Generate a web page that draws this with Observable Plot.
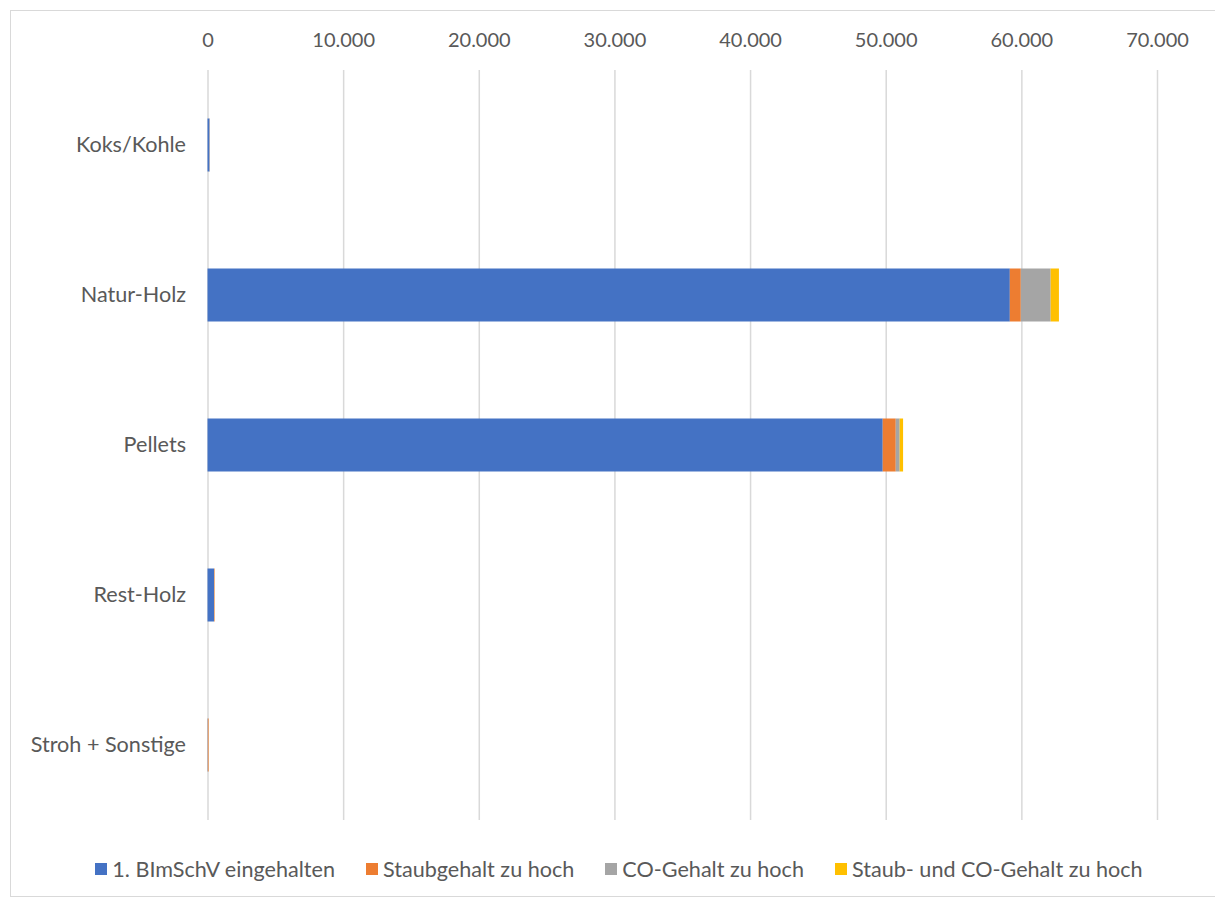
<!DOCTYPE html>
<html>
<head>
<meta charset="utf-8">
<script src="https://cdn.jsdelivr.net/npm/d3@7"></script>
<script src="https://cdn.jsdelivr.net/npm/@observablehq/plot@0.6"></script>
<style>
  body { margin: 0; background: #fff; font-family: Lato, "Open Sans", sans-serif; }
  #wrap { position: relative; width: 1215px; height: 900px; }
  #frame { position: absolute; left: 10px; top: 10px; width: 1215px; height: 887px; border: 1px solid #d9d9d9; box-sizing: border-box; border-right: none; }
  #chart { position: absolute; left: 0; top: 0; }
  #legend { position: absolute; left: 0; width: 1238px; top: 856px; display: flex; justify-content: center; gap: 31px; font-size: 21.6px; color: #595959; }
  .item { display: flex; align-items: center; gap: 5px; }
  .sw { width: 12px; height: 12px; display: inline-block; }
  #chart g[aria-label="y-axis tick label"] text { font-size: 21.6px; }
</style>
</head>
<body>
<div id="wrap">
  <div id="frame"></div>
  <div id="chart"></div>
  <div id="legend"></div>
</div>
<script>
const categories = ["Koks/Kohle", "Natur-Holz", "Pellets", "Rest-Holz", "Stroh + Sonstige"];
const seriesNames = ["1. BImSchV eingehalten", "Staubgehalt zu hoch", "CO-Gehalt zu hoch", "Staub- und CO-Gehalt zu hoch"];
const colors = ["#4472C4", "#ED7D31", "#A5A5A5", "#FFC000"];
const eingehalten = [150, 59150, 49780, 480, 20];
const staubHoch = [10, 810, 960, 40, 60];
const coHoch = [5, 2200, 290, 5, 5];
const staubCoHoch = [2, 610, 250, 3, 3];
const xTicks = [0, 10000, 20000, 30000, 40000, 50000, 60000, 70000];

const seriesValues = [eingehalten, staubHoch, coHoch, staubCoHoch];
const data = [];
seriesNames.forEach((s, si) => categories.forEach((c, ci) => data.push({category: c, series: s, value: seriesValues[si][ci]})));

const fmt = d => d === 0 ? "0" : d3.format(",")(d).replace(/,/g, ".");

const chart = Plot.plot({
  width: 1215,
  height: 840,
  marginTop: 70,
  marginBottom: 20,
  marginLeft: 207.5,
  marginRight: 58,
  style: { fontFamily: "Lato, 'Open Sans', sans-serif", fontSize: "20px", color: "#595959", background: "transparent" },
  x: { domain: [0, 70000], ticks: xTicks, tickFormat: fmt, axis: "top", label: null, tickSize: 0, tickPadding: 24 },
  y: { domain: categories, label: null, tickSize: 0, tickPadding: 22, padding: 0 },
  color: { domain: seriesNames, range: colors },
  marks: [
    Plot.ruleX(xTicks, { stroke: "#d9d9d9", strokeWidth: 1.5, strokeOpacity: 1 }),
    Plot.barX(data, Plot.stackX({ y: "category", x: "value", fill: "series", order: seriesNames, insetTop: 48.5, insetBottom: 48.5 }))
  ]
});
document.getElementById("chart").appendChild(chart);

const legend = document.getElementById("legend");
seriesNames.forEach((s, i) => {
  const it = document.createElement("div");
  it.className = "item";
  it.innerHTML = `<span class="sw" style="background:${colors[i]}"></span><span>${s}</span>`;
  legend.appendChild(it);
});
</script>
</body>
</html>
